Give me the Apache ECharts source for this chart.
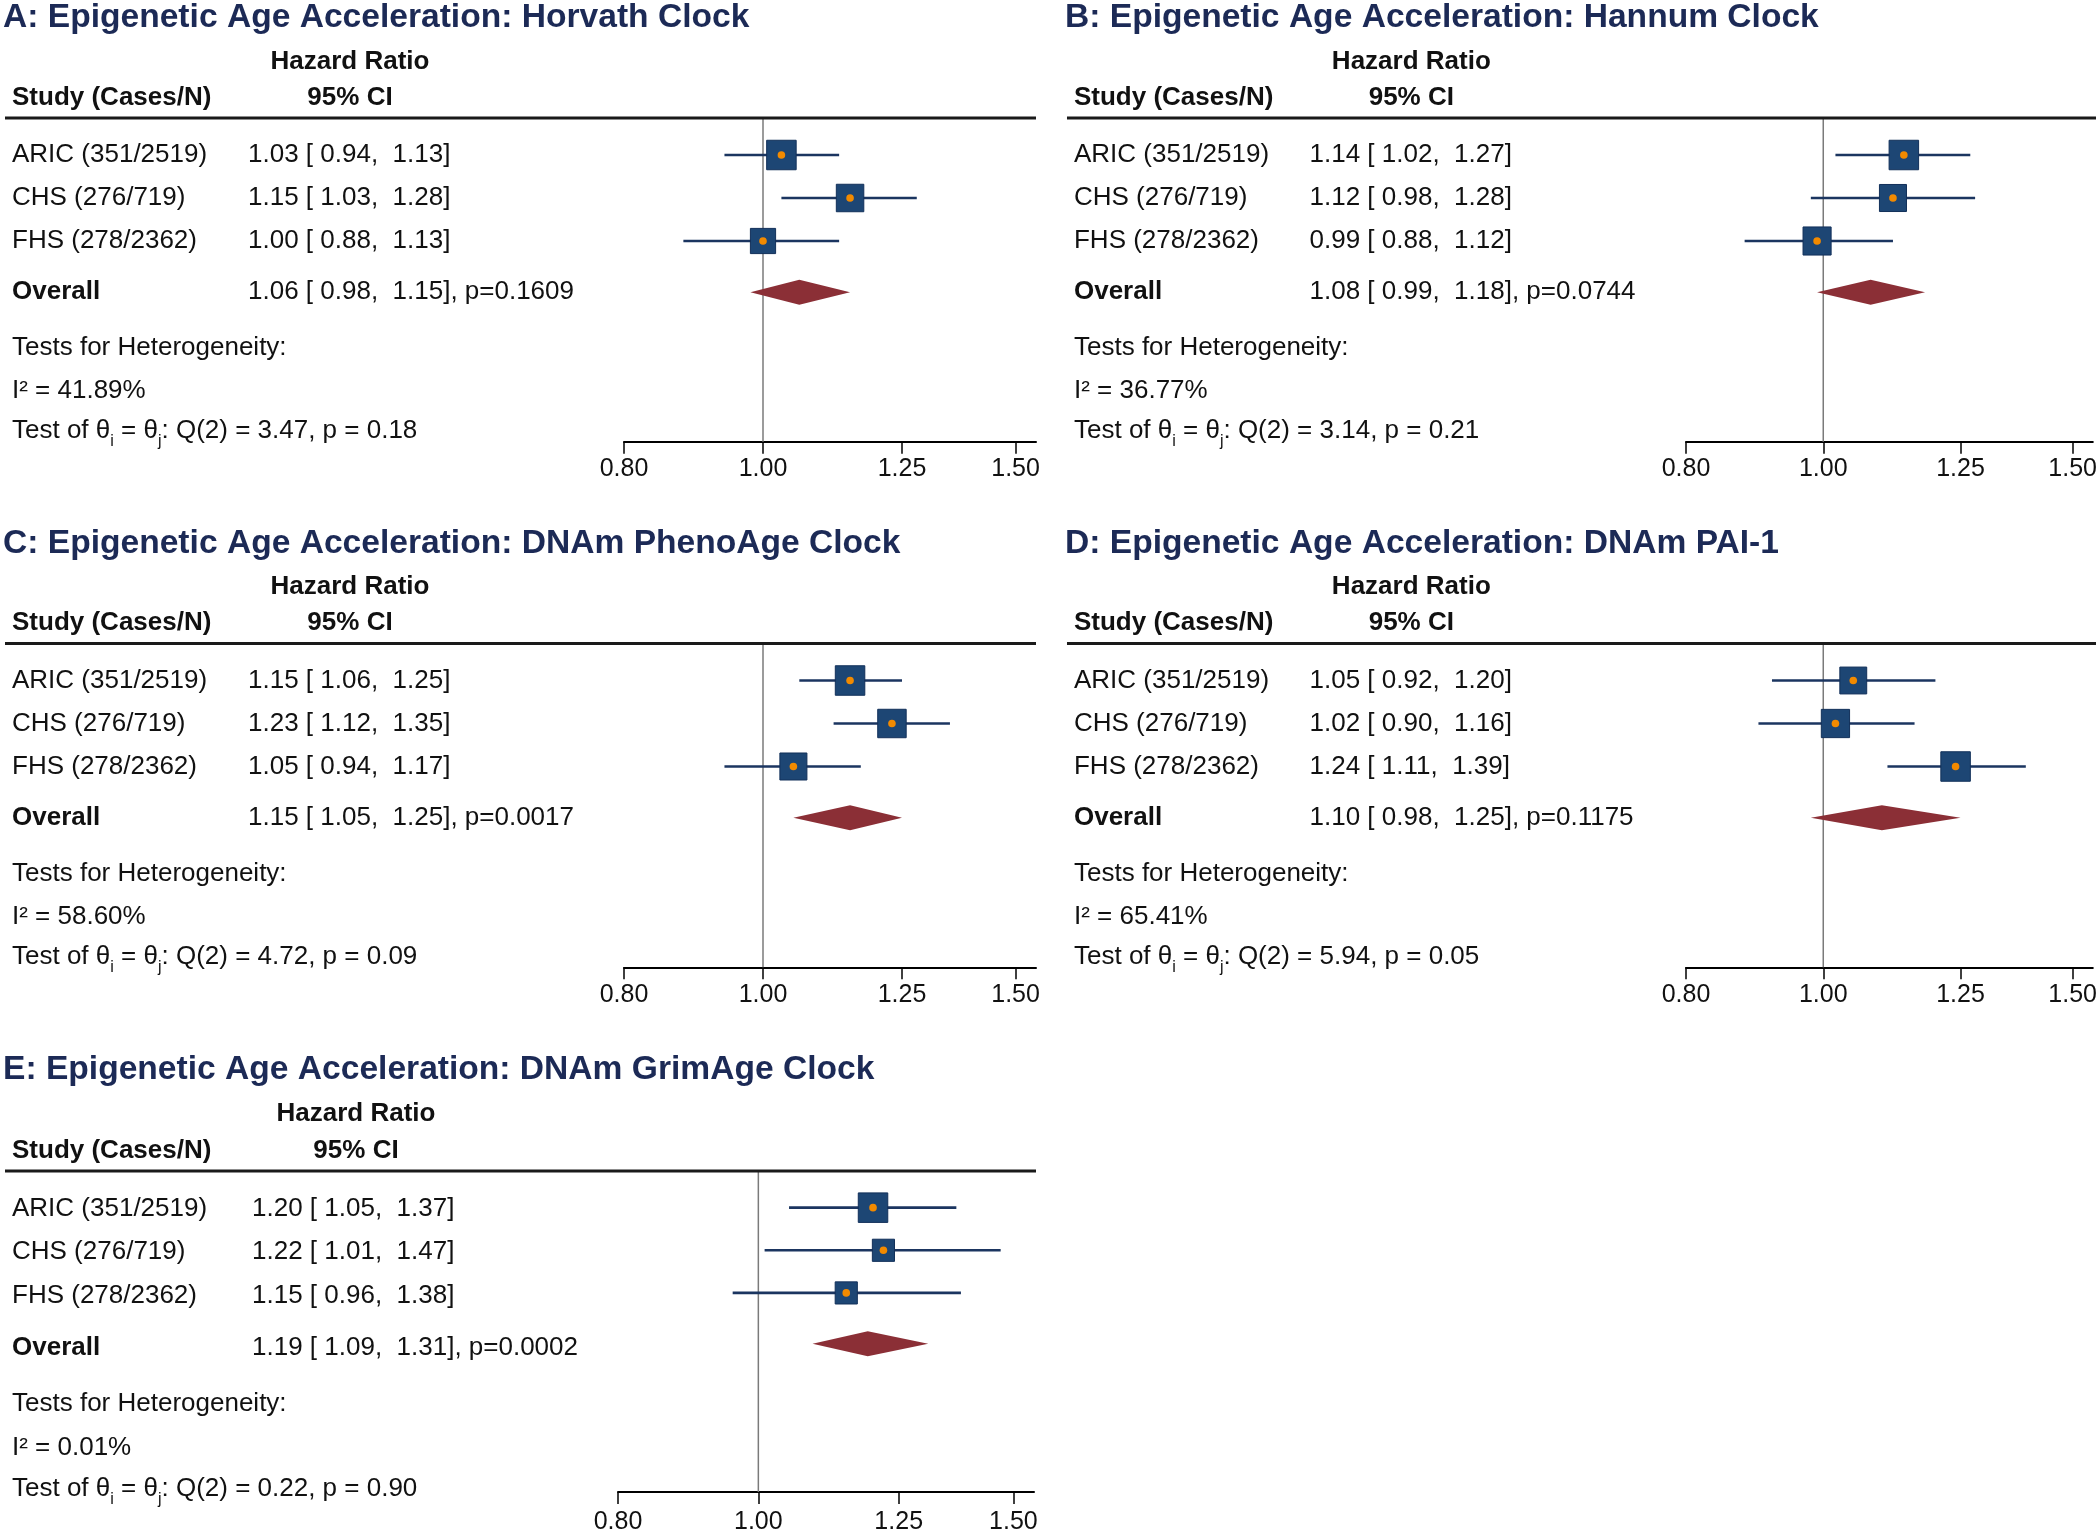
<!DOCTYPE html>
<html>
<head>
<meta charset="utf-8">
<script src="https://cdn.jsdelivr.net/npm/echarts@6/dist/echarts.min.js"></script>
<style>html,body{margin:0;padding:0;background:#fff}#c{width:2100px;height:1535px}</style>
</head>
<body>
<div id="c"></div>
<script>
// ---------------- DATA ----------------
const panelTitles = [
  'A: Epigenetic Age Acceleration: Horvath Clock',
  'B: Epigenetic Age Acceleration: Hannum Clock',
  'C: Epigenetic Age Acceleration: DNAm PhenoAge Clock',
  'D: Epigenetic Age Acceleration: DNAm PAI-1',
  'E: Epigenetic Age Acceleration: DNAm GrimAge Clock'
];
const studyLabels = ['ARIC (351/2519)', 'CHS (276/719)', 'FHS (278/2362)'];
const studyHR = [[1.03, 1.15, 1.00], [1.14, 1.12, 0.99], [1.15, 1.23, 1.05], [1.05, 1.02, 1.24], [1.20, 1.22, 1.15]];
const studyLo = [[0.94, 1.03, 0.88], [1.02, 0.98, 0.88], [1.06, 1.12, 0.94], [0.92, 0.90, 1.11], [1.05, 1.01, 0.96]];
const studyHi = [[1.13, 1.28, 1.13], [1.27, 1.28, 1.12], [1.25, 1.35, 1.17], [1.20, 1.16, 1.39], [1.37, 1.47, 1.38]];
const studyWeight = [[38.5, 33.4, 28.1], [36.4, 30.6, 33.0], [36.1, 33.6, 30.3], [30.2, 33.4, 36.4], [47.0, 26.5, 26.5]];
const overallHR = [1.06, 1.08, 1.15, 1.10, 1.19];
const overallLo = [0.98, 0.99, 1.05, 0.98, 1.09];
const overallHi = [1.15, 1.18, 1.25, 1.25, 1.31];
const overallP = ['0.1609', '0.0744', '0.0017', '0.1175', '0.0002'];
const iSquared = ['41.89', '36.77', '58.60', '65.41', '0.01'];
const qStat = ['3.47', '3.14', '4.72', '5.94', '0.22'];
const qP = ['0.18', '0.21', '0.09', '0.05', '0.90'];
const xTicks = [0.80, 1.00, 1.25, 1.50];
const xRange = [0.80, 1.55];

// ---------------- LAYOUT ----------------
const FONT = '"Liberation Sans", Arial, Helvetica, sans-serif';
const TEXT_COLOR = '#111111';
const TITLE_COLOR = '#1c2a56';
// row units (1 = distance between study rows)
const ROW = { title: -3.19, hazard: -2.17, study: -1.33, line: -0.86, overall: 3.19, tests: 4.49, isq: 5.49, test: 6.42, axis: 6.67 };
const layouts = [
  { ox: 0,    oy: 0,     row0: 155, pitch: 43,   x08: 624, xEnd: 1036, colName: 12, colHR: 248, colHdr: 350, lblMargin: 15 },
  { ox: 1062, oy: 0,     row0: 155, pitch: 43,   x08: 624, xEnd: 1036, colName: 12, colHR: 248, colHdr: 350, lblMargin: 15 },
  { ox: 0,    oy: 525.5, row0: 155, pitch: 43,   x08: 624, xEnd: 1036, colName: 12, colHR: 248, colHdr: 350, lblMargin: 15 },
  { ox: 1062, oy: 525.5, row0: 155, pitch: 43,   x08: 624, xEnd: 1036, colName: 12, colHR: 248, colHdr: 350, lblMargin: 15 },
  { ox: 0,    oy: 1053,  row0: 155.5, pitch: 43.6, x08: 618, xEnd: 1034, colName: 12, colHR: 252, colHdr: 356, lblMargin: 18 }
];
const TEXT_W = 1040;
const MAX_SQ = 29.5;

const f2 = v => v.toFixed(2);
const ciText = (h, l, u) => f2(h) + ' [ ' + f2(l) + ',  ' + f2(u) + ']';

const grids = [], xAxes = [], yAxes = [], series = [];

layouts.forEach((L, p) => {
  const top = L.oy + L.row0 + ROW.line * L.pitch;
  const height = (ROW.axis - ROW.line) * L.pitch;
  grids.push({ left: L.ox, top: top, width: TEXT_W, height: height });
  grids.push({ left: L.ox + L.x08, top: top, width: L.xEnd - L.x08, height: height });
  const gT = 2 * p, gP = 2 * p + 1;
  xAxes.push({ type: 'value', gridIndex: gT, min: 0, max: TEXT_W, show: false });
  yAxes.push({ type: 'value', gridIndex: gT, min: ROW.line, max: ROW.axis, inverse: true, show: false });
  xAxes.push({
    type: 'log', logBase: 10, gridIndex: gP, min: xRange[0], max: xRange[1],
    axisLine: { show: true, onZero: false, lineStyle: { color: '#000', width: 2 } },
    axisTick: { show: true, inside: false, length: 12, customValues: xTicks, lineStyle: { color: '#000', width: 1.5 } },
    axisLabel: { show: true, customValues: xTicks, formatter: v => Number(v).toFixed(2), fontSize: 25, color: TEXT_COLOR, fontFamily: FONT, margin: L.lblMargin },
    splitLine: { show: false }, minorTick: { show: false }
  });
  yAxes.push({ type: 'value', gridIndex: gP, min: ROW.line, max: ROW.axis, inverse: true, show: false });

  // ---- text items ----
  const items = [];
  items.push({ x: 3, row: ROW.title, text: panelTitles[p], bold: true, size: 33.6, color: TITLE_COLOR });
  items.push({ x: L.colHdr, row: ROW.hazard, text: 'Hazard Ratio', bold: true, align: 'center' });
  items.push({ x: L.colName, row: ROW.study, text: 'Study (Cases/N)', bold: true });
  items.push({ x: L.colHdr, row: ROW.study, text: '95% CI', bold: true, align: 'center' });
  studyLabels.forEach((s, i) => {
    items.push({ x: L.colName, row: i, text: s });
    items.push({ x: L.colHR, row: i, text: ciText(studyHR[p][i], studyLo[p][i], studyHi[p][i]) });
  });
  items.push({ x: L.colName, row: ROW.overall, text: 'Overall', bold: true });
  items.push({ x: L.colHR, row: ROW.overall, text: ciText(overallHR[p], overallLo[p], overallHi[p]) + ', p=' + overallP[p] });
  items.push({ x: L.colName, row: ROW.tests, text: 'Tests for Heterogeneity:' });
  items.push({ x: L.colName, row: ROW.isq, text: 'I\u00B2 = ' + iSquared[p] + '%' });
  items.push({ x: L.colName, row: ROW.test,
    text: '{n|Test of \u03B8}{s|i}{n| = \u03B8}{s|j}{n|: Q(2) = ' + qStat[p] + ', p = ' + qP[p] + '}', rich: true });

  series.push({
    type: 'custom', xAxisIndex: gT, yAxisIndex: gT, silent: true, animation: false, z: 5,
    data: items.map((it, i) => [it.x, it.row, i]),
    renderItem: (params, api) => {
      const it = items[params.dataIndex];
      const pt = api.coord([it.x, it.row]);
      const style = {
        text: it.text, fill: it.color || TEXT_COLOR, fontFamily: FONT,
        fontSize: it.size || 26, fontWeight: it.bold ? 'bold' : 'normal',
        align: it.align || 'left', verticalAlign: 'middle'
      };
      if (it.rich) {
        style.rich = {
          n: { fontSize: 26, fontFamily: FONT, fill: TEXT_COLOR, lineHeight: 38, verticalAlign: 'middle' },
          s: { fontSize: 16, fontFamily: FONT, fill: TEXT_COLOR, verticalAlign: 'bottom' }
        };
      }
      return { type: 'text', x: pt[0], y: pt[1], style: style };
    }
  });

  // header rule
  series.push({
    type: 'custom', xAxisIndex: gT, yAxisIndex: gT, silent: true, animation: false, z: 3,
    data: [[5, 1036, ROW.line]],
    renderItem: (params, api) => {
      const a = api.coord([api.value(0), api.value(2)]);
      const b = api.coord([api.value(1), api.value(2)]);
      return { type: 'line', shape: { x1: a[0], y1: a[1], x2: b[0], y2: b[1] }, style: { stroke: '#1a1a1a', lineWidth: 3 } };
    }
  });

  // reference line at HR = 1
  series.push({
    type: 'custom', xAxisIndex: gP, yAxisIndex: gP, silent: true, animation: false, z: 2,
    data: [[1, ROW.line, ROW.axis]],
    renderItem: (params, api) => {
      const a = api.coord([api.value(0), api.value(1)]);
      const b = api.coord([api.value(0), api.value(2)]);
      return { type: 'line', shape: { x1: a[0], y1: a[1], x2: b[0], y2: b[1] }, style: { stroke: '#7a7a7a', lineWidth: 1.5 } };
    }
  });

  // CI lines
  series.push({
    type: 'custom', xAxisIndex: gP, yAxisIndex: gP, silent: true, animation: false, z: 3,
    data: studyLabels.map((s, i) => [studyLo[p][i], studyHi[p][i], i]),
    renderItem: (params, api) => {
      const a = api.coord([api.value(0), api.value(2)]);
      const b = api.coord([api.value(1), api.value(2)]);
      return { type: 'line', shape: { x1: a[0], y1: a[1], x2: b[0], y2: b[1] }, style: { stroke: '#1b3560', lineWidth: 2.6 } };
    }
  });

  // weighted squares with point marker
  const wMax = Math.max.apply(null, studyWeight[p]);
  series.push({
    type: 'custom', xAxisIndex: gP, yAxisIndex: gP, silent: true, animation: false, z: 4,
    data: studyLabels.map((s, i) => [studyHR[p][i], i, studyWeight[p][i]]),
    renderItem: (params, api) => {
      const c = api.coord([api.value(0), api.value(1)]);
      const sz = MAX_SQ * Math.sqrt(api.value(2) / wMax);
      return {
        type: 'group', children: [
          { type: 'rect', shape: { x: c[0] - sz / 2, y: c[1] - sz / 2, width: sz, height: sz },
            style: { fill: '#1d4674', stroke: '#12305a', lineWidth: 1 } },
          { type: 'circle', shape: { cx: c[0], cy: c[1], r: 3.8 }, style: { fill: '#f28a00' } }
        ]
      };
    }
  });

  // overall diamond
  series.push({
    type: 'custom', xAxisIndex: gP, yAxisIndex: gP, silent: true, animation: false, z: 4,
    data: [[overallLo[p], overallHR[p], overallHi[p], ROW.overall]],
    renderItem: (params, api) => {
      const r = api.value(3);
      const l = api.coord([api.value(0), r]);
      const m = api.coord([api.value(1), r]);
      const h = api.coord([api.value(2), r]);
      const hh = 12.5;
      return { type: 'polygon', shape: { points: [[l[0], l[1]], [m[0], m[1] - hh], [h[0], h[1]], [m[0], m[1] + hh]] },
               style: { fill: '#8b2f36' } };
    }
  });
});

const chart = echarts.init(document.getElementById('c'), null, { renderer: 'canvas' });
chart.setOption({
  backgroundColor: '#ffffff',
  animation: false,
  grid: grids,
  xAxis: xAxes,
  yAxis: yAxes,
  series: series
});
</script>
</body>
</html>
